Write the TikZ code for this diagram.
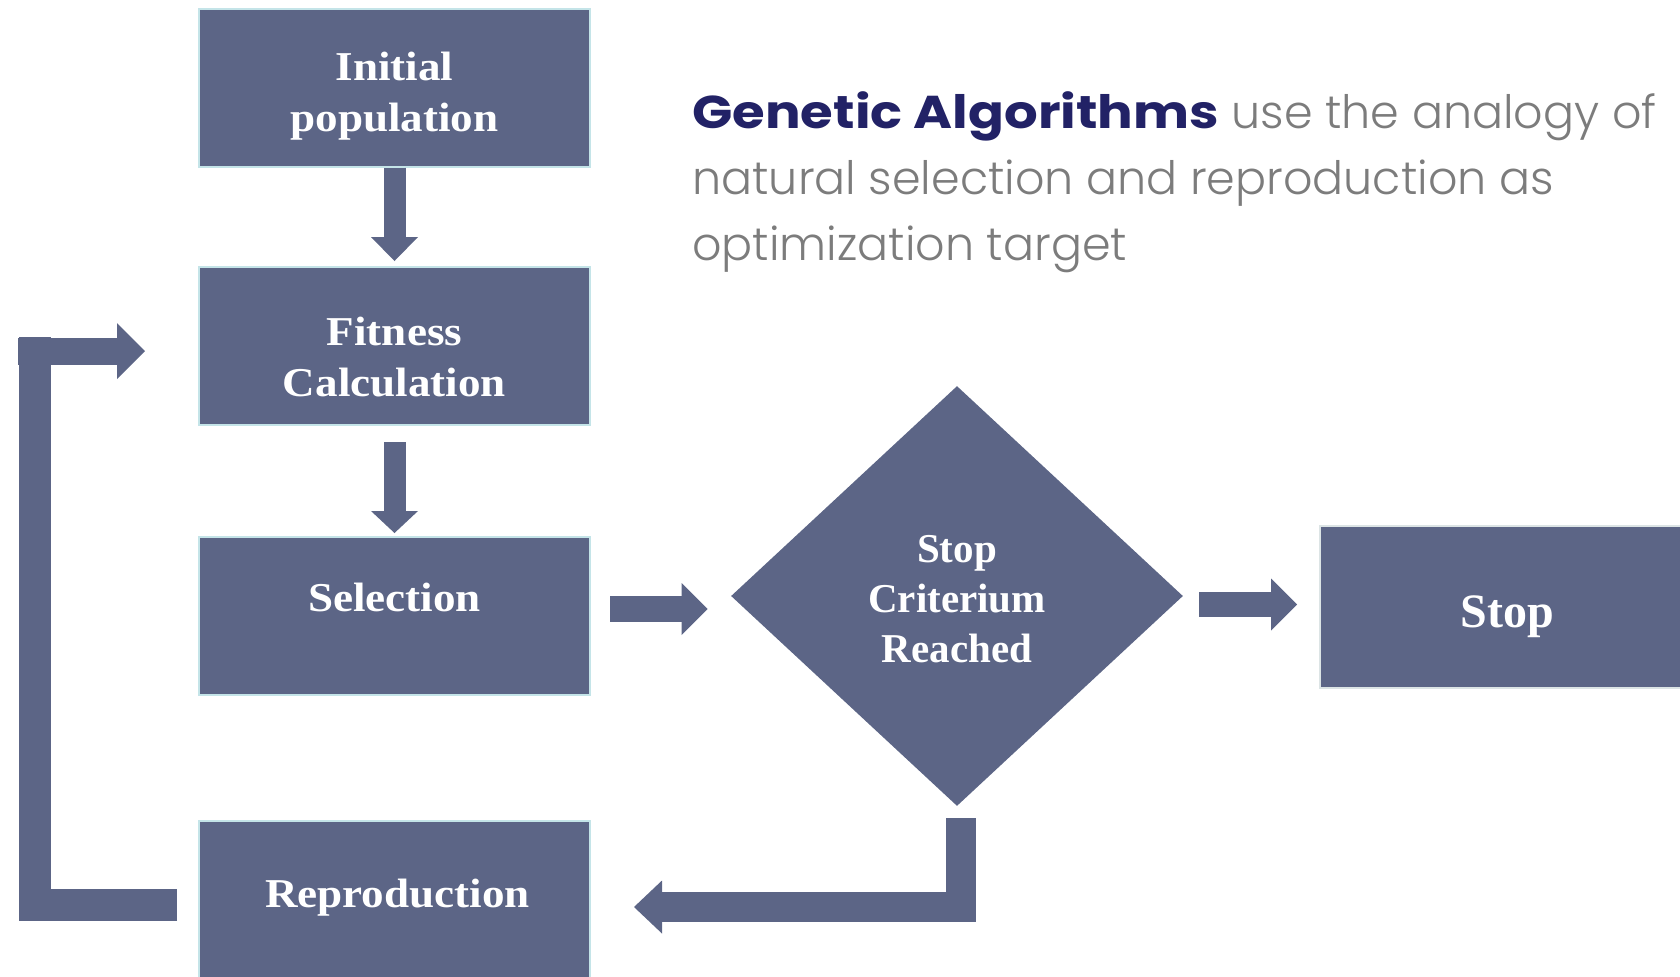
\documentclass[tikz,border=0pt]{standalone}
\usepackage{fontspec}
\usetikzlibrary{arrows.meta,calc,shapes.geometric}
\newfontfamily\boxfont{Liberation Serif}[FakeStretch=1.1]
\newfontfamily\diafont{Liberation Serif}
\newfontfamily\headfont{Poppins Light}
\newfontfamily\headbold{Poppins}[FakeStretch=1.15]
\definecolor{boxfill}{RGB}{92,101,134}
\definecolor{boxedge}{RGB}{196,228,232}
\definecolor{navy}{RGB}{34,34,102}
\definecolor{textgray}{RGB}{124,124,124}
\tikzset{
  box/.style={rectangle, fill=boxfill, draw=boxedge, line width=1pt,
    minimum width=195.5pt, minimum height=79pt, inner sep=0pt},
  boxtext/.style={text=white, align=center, inner sep=0pt,
    font={\boxfont\fontsize{20.5}{25.5}\selectfont\bfseries}},
  diatext/.style={text=white, align=center, inner sep=0pt,
    font={\diafont\fontsize{20.5}{25}\selectfont\bfseries}},
  headline/.style={anchor=base west, inner sep=0pt, text=textgray,
    font={\headfont\fontsize{23}{33}\selectfont}},
  flow/.style args={#1/#2/#3}{draw=boxfill, line width=#1, line cap=butt,
    line join=miter,
    -{Triangle[width=#2, length=#3, line width=0pt]}},
}
\begin{document}
\begin{tikzpicture}[x=0.5pt, y=-0.5pt]
\useasboundingbox (0,0) rectangle (1680,976);
\clip (0,0) rectangle (1680,976);

% process boxes
\node[box] (init) at (394.5,87.5) {};
\node[box] (fit)  at (394.5,346) {};
\node[box] (sel)  at (394.5,616) {};
\node[box] (rep)  at (394.5,900) {};
\node[diamond, fill=boxfill, inner sep=0pt, minimum width=226pt,
      minimum height=210pt] (dia) at (957,596) {};
\node[box, draw=boxedge!60!gray!40, minimum width=187pt, minimum height=81pt]
      (stop) at (1507,607) {};

% box labels
\node[boxtext] (init-t) at ($(init.center)+(0,8.5)$) {Initial\\population};
\node[boxtext] (fit-t)  at ($(fit.center)+(0,11)$) {Fitness\\Calculation};
\node[boxtext] (sel-t)  at ($(sel.center)+(0,-19)$) {Selection};
\node[boxtext] (rep-t)  at ($(rep.center)+(3,-2.5)$) {Reproduction};
\node[diatext] (dia-t)  at ($(dia.center)+(0,3)$) {Stop\\Criterium\\Reached};
\node[diatext, font={\diafont\fontsize{24}{28}\selectfont\bfseries}]
      (stop-t) at ($(stop.center)+(0,10)$) {Stop};

% heading
\node[headline] (head1) at (692,128)
  {{\headbold\fontsize{23}{33}\selectfont\bfseries\color{navy}Genetic Algorithms} use the analogy of};
\node[headline] (head2) at (692,194) {natural selection and reproduction as};
\node[headline] (head3) at (692,260) {optimization target};

% block arrows
\draw[flow=11pt/23.5pt/12pt] (init.south) -- ($(fit.north)+(0,-5)$);
\draw[flow=11pt/23.5pt/11pt] ($(fit.south)+(0,16)$) -- ($(sel.north)+(0,-3)$);
\draw[flow=13pt/26pt/13pt] ($(sel.east)+(19,-7)$) -- ($(dia.west)+(-23,13)$);
\draw[flow=12.5pt/26pt/13pt] ($(dia.east)+(16,8.5)$) -- ($(stop.west)+(-22,-2.5)$);
\draw[flow=15pt/26.5pt/14pt] ($(dia.south)+(4,12)$) |- ($(rep.east)+(43,7)$);

% loop back from reproduction to fitness calculation
\coordinate (loopturn)  at (34.5,337);
\coordinate (loopstart) at (18,351);
\draw[draw=boxfill, line width=16pt, line join=miter]
  ($(rep.west)+(-21,5)$) -| (loopturn);
\draw[flow=13.5pt/28pt/14pt] (loopstart) -- ($(fit.west)+(-53,5)$);
\end{tikzpicture}
\end{document}
